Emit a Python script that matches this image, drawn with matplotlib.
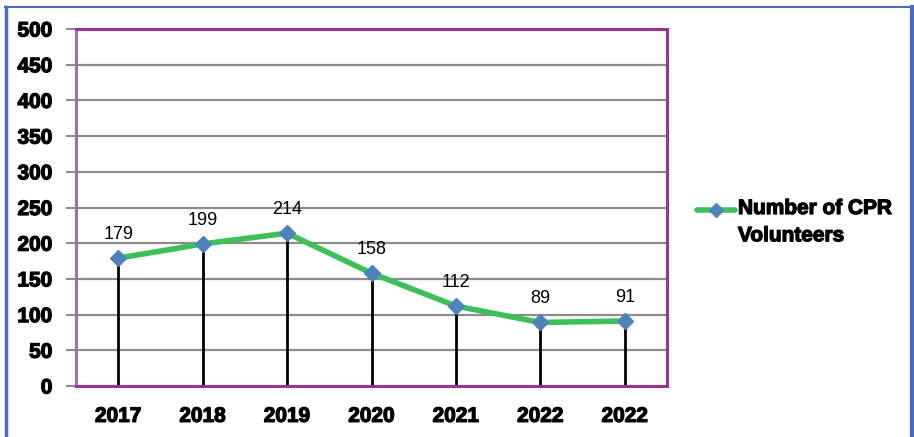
import matplotlib
matplotlib.use("Agg")
import matplotlib.pyplot as plt
from matplotlib.lines import Line2D
import matplotlib.patheffects as pe

years = ["2017", "2018", "2019", "2020", "2021", "2022", "2022"]
volunteers = [179, 199, 214, 158, 112, 89, 91]
yticks = [0, 50, 100, 150, 200, 250, 300, 350, 400, 450, 500]
series_name = "Number of CPR\nVolunteers"

plt.rcParams['font.family'] = ['Liberation Sans', 'DejaVu Sans']

W, H = 914, 437
fig = plt.figure(figsize=(W / 100, H / 100), dpi=100)
ax = fig.add_axes([76 / W, 1 - 386 / H, (667 - 76) / W, (386 - 29) / H])

x = [i + 0.5 for i in range(len(years))]
ax.set_xlim(0, len(years))
ax.set_ylim(0, 500)

for yv in yticks[1:-1]:
    ax.axhline(yv, color="#8c8c8c", lw=1.6, zorder=1)

ax.vlines(x, 0, volunteers, color="black", lw=2, zorder=2)
ax.plot(x, volunteers, color="#3dbf5a", lw=4, zorder=3, solid_capstyle="round")
ax.plot(x, volunteers, ls="none", marker="D", ms=8, color="#4f81bd", zorder=4)

for xi, v in zip(x, volunteers):
    ax.annotate(str(v), (xi, v), xytext=(0, 11), textcoords="offset points",
                ha="center", va="bottom", fontsize=13, color="black")

heavy = [pe.withStroke(linewidth=0.9, foreground="black")]

ax.set_yticks(yticks)
ax.set_yticklabels([str(t) for t in yticks], fontsize=15, fontweight="heavy")
ax.set_xticks(x)
ax.set_xticklabels(years, fontsize=15, fontweight="heavy")
for lab in ax.get_xticklabels() + ax.get_yticklabels():
    lab.set_path_effects(heavy)
ax.tick_params(axis="y", length=7, width=1.5, color="#8c8c8c", pad=10)
ax.tick_params(axis="x", length=0, pad=15)

for side in ["top", "right", "bottom"]:
    ax.spines[side].set_color("#993399")
    ax.spines[side].set_linewidth(2.2)
ax.spines["left"].set_color("#a070a8")
ax.spines["left"].set_linewidth(2.2)

# legend (manual, key aligned with first text line)
ly = 1 - 210 / H
fig.add_artist(Line2D([697 / W, 735 / W], [ly, ly], color="#3dbf5a", lw=4,
                      transform=fig.transFigure, solid_capstyle="round"))
fig.add_artist(Line2D([716 / W], [ly], marker="D", ms=7, color="#4f81bd",
                      transform=fig.transFigure))
fig.text(738 / W, 1 - 199 / H, series_name, ha="left", va="top",
         fontsize=15, fontweight="heavy", linespacing=1.55, path_effects=heavy)

# figure border (left, top, right)
bc = "#4a6cc0"
fig.add_artist(Line2D([5.5 / W, 5.5 / W], [0, 1 - 7 / H], color=bc, lw=2.5,
                      transform=fig.transFigure))
fig.add_artist(Line2D([5 / W, 911 / W], [1 - 7 / H, 1 - 7 / H], color=bc, lw=1.5,
                      transform=fig.transFigure))
fig.add_artist(Line2D([911.5 / W, 911.5 / W], [0, 1 - 7 / H], color=bc, lw=3,
                      transform=fig.transFigure))

fig.savefig("out.png", dpi=100)
